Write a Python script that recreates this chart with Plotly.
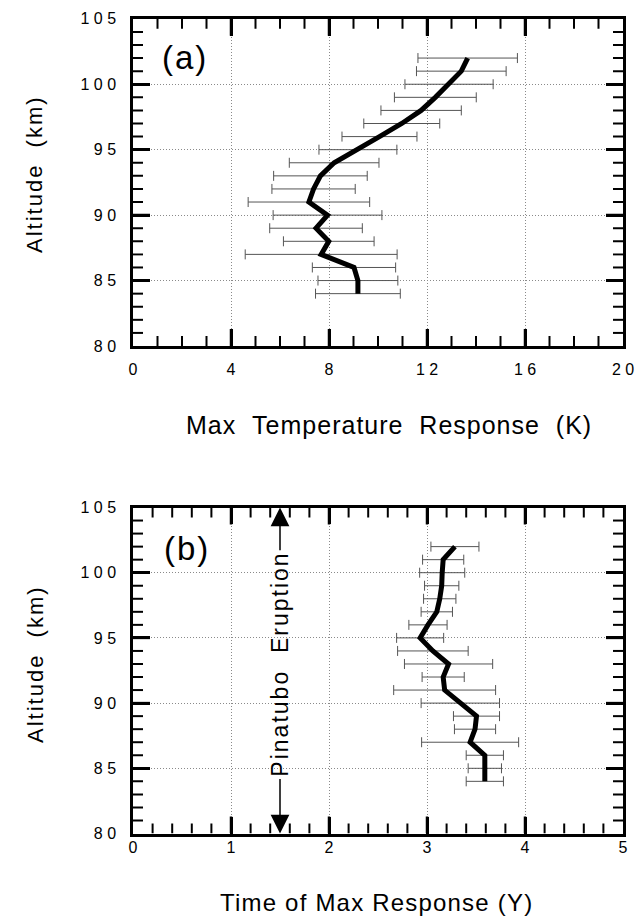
import plotly.graph_objects as go

# ---------------- data ----------------
altitude_km = [84, 85, 86, 87, 88, 89, 90, 91, 92, 93, 94, 95, 96, 97, 98, 99, 100, 101, 102]

max_temp_response_K = [9.18, 9.18, 9.02, 7.68, 7.99, 7.47, 7.94, 7.18, 7.37, 7.65,
                       8.21, 9.18, 10.06, 10.97, 11.76, 12.34, 12.90, 13.40, 13.66]
max_temp_err_K = [1.73, 1.63, 1.70, 3.10, 1.85, 1.89, 2.22, 2.48, 1.70, 1.91,
                  1.83, 1.59, 1.53, 1.55, 1.64, 1.67, 1.80, 1.83, 2.03]

time_of_max_Y = [3.59, 3.59, 3.59, 3.44, 3.49, 3.505, 3.34, 3.18, 3.165, 3.22,
                 3.06, 2.93, 3.01, 3.10, 3.13, 3.15, 3.155, 3.165, 3.285]
time_of_max_err_Y = [0.19, 0.17, 0.19, 0.495, 0.21, 0.235, 0.40, 0.52, 0.215, 0.45,
                     0.36, 0.24, 0.195, 0.16, 0.165, 0.175, 0.23, 0.21, 0.245]

eruption_time_Y = 1.5

# tick labels as printed (letter-spaced digits)
y_tick_labels = {"80": "8 0", "85": "8 5", "90": "9 0", "95": "9 5", "100": "1 0 0", "105": "1 0 5"}
xa_tick_labels = {"0": "0", "4": "4", "8": "8", "12": "1 2", "16": "1 6", "20": "2 0"}

# ---------------- figure ----------------
W, H = 640, 922
FONT = "Liberation Sans, Arial, Helvetica, sans-serif"

def px(x):
    return x / W

def py(y):
    return 1 - y / H

fig = go.Figure()

X0, X1 = 133, 623
YA0, YA1 = 18.8, 346
YB0, YB1 = 507.5, 833.5
x_dom = [px(X0), px(X1)]
ya_dom = [py(YA1), py(YA0)]
yb_dom = [py(YB1), py(YB0)]

# ---- inside tick marks on all four sides, drawn as thin line traces ----
MAJOR_LEN, MINOR_LEN = 17, 10

def add_ticks(xname, yname, xr, xstep, xmajor, yr, ystep, ymajor, plot_w, plot_h):
    xs = {True: [], False: []}
    ys = {True: [], False: []}
    kx = (xr[1] - xr[0]) / plot_w   # data units per pixel along x
    ky = (yr[1] - yr[0]) / plot_h   # data units per pixel along y
    n = round((xr[1] - xr[0]) / xstep)
    for i in range(1, n):
        v = xr[0] + i * xstep
        major = abs(v / xmajor - round(v / xmajor)) < 1e-6
        L = (MAJOR_LEN if major else MINOR_LEN) * ky
        xs[major] += [v, v, None, v, v, None]
        ys[major] += [yr[0], yr[0] + L, None, yr[1], yr[1] - L, None]
    n = round((yr[1] - yr[0]) / ystep)
    for i in range(1, n):
        v = yr[0] + i * ystep
        major = abs(v / ymajor - round(v / ymajor)) < 1e-6
        L = (MAJOR_LEN if major else MINOR_LEN) * kx
        xs[major] += [xr[0], xr[0] + L, None, xr[1], xr[1] - L, None]
        ys[major] += [v, v, None, v, v, None]
    for major in (True, False):
        fig.add_trace(go.Scatter(x=xs[major], y=ys[major], mode="lines",
                                 line=dict(color="black", width=2.5 if major else 2),
                                 xaxis=xname, yaxis=yname, showlegend=False,
                                 hoverinfo="skip", connectgaps=False, cliponaxis=False))

add_ticks("x", "y", [0, 20], 1, 4, [80, 105], 1, 5, X1 - X0, YA1 - YA0)
add_ticks("x2", "y2", [0, 5], 0.2, 1, [80, 105], 1, 5, X1 - X0, YB1 - YB0)

# ---- data traces ----
ebar = dict(type="data", symmetric=True, color="#555555", thickness=1, width=5)

fig.add_trace(go.Scatter(
    x=max_temp_response_K, y=altitude_km, mode="lines",
    line=dict(color="black", width=5),
    error_x=dict(array=max_temp_err_K, **ebar),
    xaxis="x", yaxis="y", showlegend=False, hoverinfo="skip"))

fig.add_trace(go.Scatter(
    x=time_of_max_Y, y=altitude_km, mode="lines",
    line=dict(color="black", width=5),
    error_x=dict(array=time_of_max_err_Y, **ebar),
    xaxis="x2", yaxis="y2", showlegend=False, hoverinfo="skip"))

common = dict(
    showline=True, linecolor="black", linewidth=2.5, mirror="allticks",
    ticks="inside", ticklen=MAJOR_LEN, tickwidth=2.5, tickcolor="black",
    showgrid=True, gridcolor="#8a8a8a", gridwidth=1, griddash="1px,2px",
    zeroline=False, tickfont=dict(family=FONT, size=16, color="black"),
    tickmode="linear", fixedrange=True,
)

fig.update_layout(
    width=W, height=H, autosize=False,
    margin=dict(l=0, r=0, t=0, b=0, autoexpand=False),
    paper_bgcolor="white", plot_bgcolor="white",
    showlegend=False, hovermode=False,
    xaxis=dict(domain=x_dom, range=[0, 20], anchor="y", tick0=0, dtick=4,
               labelalias=xa_tick_labels, ticklabelstandoff=24 - MAJOR_LEN, **common),
    yaxis=dict(domain=ya_dom, range=[80, 105], anchor="x", tick0=80, dtick=5,
               labelalias=y_tick_labels, ticklabelstandoff=28 - MAJOR_LEN, **common),
    xaxis2=dict(domain=x_dom, range=[0, 5], anchor="y2", tick0=0, dtick=1,
                ticklabelstandoff=15 - MAJOR_LEN, **common),
    yaxis2=dict(domain=yb_dom, range=[80, 105], anchor="x2", tick0=80, dtick=5,
                labelalias=y_tick_labels, ticklabelstandoff=28 - MAJOR_LEN, **common),
)

def spaced(t, ls):
    return f'<span style="letter-spacing:{ls}px">{t}</span>'

ann = []
def add_text(text, x, y, size, angle=0):
    ann.append(dict(text=text, x=px(x), y=py(y), xref="paper", yref="paper",
                    xanchor="center", yanchor="middle", showarrow=False, textangle=angle,
                    font=dict(family=FONT, size=size, color="black")))

# panel labels
add_text(spaced("(a)", 2), 185, 57.5, 33)
add_text(spaced("(b)", 2), 187, 548, 33)
# y axis titles
for yc in (174, 664):
    add_text(spaced("Altitude\u00a0\u00a0(km)", 2), 35, yc, 22, -90)
# x axis titles
add_text(spaced("Max\u00a0\u00a0Temperature\u00a0\u00a0Response\u00a0\u00a0(K)", 1), 389, 425, 25)
add_text(spaced("Time of Max Response (Y)", 1.2), 376, 902, 24)

# Pinatubo eruption marker
text_top, text_bot = 101.6, 84.3
ann.append(dict(text=spaced("Pinatubo\u00a0\u00a0Eruption", 2), x=eruption_time_Y,
                y=(text_top + text_bot) / 2, xref="x2", yref="y2",
                xanchor="center", yanchor="middle", showarrow=False, textangle=-90,
                font=dict(family=FONT, size=23, color="black")))
ann.append(dict(text="", x=eruption_time_Y, y=105, ax=eruption_time_Y, ay=text_top,
                xref="x2", yref="y2", axref="x2", ayref="y2", showarrow=True,
                arrowhead=2, arrowsize=2.5, arrowwidth=1.5, arrowcolor="black", standoff=0))
ann.append(dict(text="", x=eruption_time_Y, y=80, ax=eruption_time_Y, ay=text_bot,
                xref="x2", yref="y2", axref="x2", ayref="y2", showarrow=True,
                arrowhead=2, arrowsize=2.5, arrowwidth=1.5, arrowcolor="black", standoff=0))

fig.update_layout(annotations=ann)

fig.write_html("out.html", config={"displayModeBar": False},
               post_script="document.body.style.margin='0px';document.body.style.overflow='hidden';")
